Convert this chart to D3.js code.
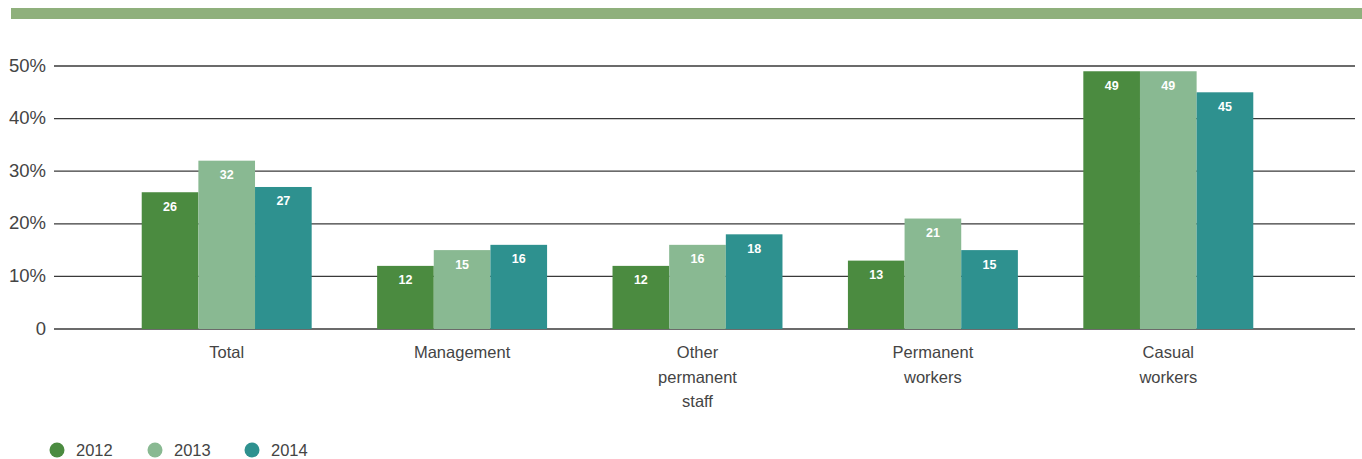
<!DOCTYPE html>
<html>
<head>
<meta charset="utf-8">
<script src="https://cdn.jsdelivr.net/npm/d3@7/dist/d3.min.js"></script>
<style>
  html, body { margin: 0; padding: 0; background: #fff; }
  svg { display: block; font-family: "Liberation Sans", Arial, sans-serif; }
</style>
</head>
<body>
<svg id="chart" width="1362" height="459"></svg>
<script>
// Staff groups (multi-line labels)
const categories = ["Total", "Management", "Other permanent staff", "Permanent workers", "Casual workers"];
const categoryLines = [["Total"], ["Management"], ["Other", "permanent", "staff"], ["Permanent", "workers"], ["Casual", "workers"]];
const years = ["2012", "2013", "2014"];
const values2012 = [26, 12, 12, 13, 49];
const values2013 = [32, 15, 16, 21, 49];
const values2014 = [27, 16, 18, 15, 45];
const yTicks = [0, 10, 20, 30, 40, 50];
const colors = ["#4b8b40", "#89b992", "#2e918f"];

const seriesValues = [values2012, values2013, values2014];

const svg = d3.select("#chart");

// Header band
svg.append("rect").attr("x", 11).attr("y", 8).attr("width", 1351).attr("height", 11).attr("fill", "#8fb07c");

const y = d3.scaleLinear().domain([0, 50]).range([329, 66]);
const x = d3.scaleBand().domain(categories).range([109, 1286]).paddingInner(0.278).paddingOuter(0.139);
const xs = d3.scaleBand().domain(years).range([0, x.bandwidth()]);

// Gridlines and y labels
const grid = svg.append("g");
grid.selectAll("line").data(yTicks).join("line")
  .attr("x1", 54).attr("x2", 1355)
  .attr("y1", d => y(d)).attr("y2", d => y(d))
  .attr("stroke", "#3a3a3a").attr("stroke-width", 1.3);
grid.selectAll("text").data(yTicks).join("text")
  .attr("x", 46).attr("y", d => y(d)).attr("dy", "0.3em")
  .attr("text-anchor", "end")
  .attr("font-size", 18.5).attr("fill", "#444")
  .text(d => d === 0 ? "0" : d + "%");

// Bars
const groups = svg.append("g").selectAll("g").data(categories).join("g")
  .attr("transform", d => `translate(${x(d)},0)`);

groups.each(function(cat, ci) {
  const g = d3.select(this);
  years.forEach((yr, si) => {
    const v = seriesValues[si][ci];
    g.append("rect")
      .attr("x", xs(yr)).attr("y", y(v))
      .attr("width", xs.bandwidth()).attr("height", y(0) - y(v))
      .attr("fill", colors[si]);
    g.append("text")
      .attr("x", xs(yr) + xs.bandwidth() / 2).attr("y", y(v) + 18.5)
      .attr("text-anchor", "middle")
      .attr("font-size", 12.5).attr("font-weight", "bold").attr("fill", "#fff")
      .text(v);
  });
});

// Category labels
const catLabels = svg.append("g").selectAll("text").data(categories).join("text")
  .attr("x", d => x(d) + x.bandwidth() / 2)
  .attr("y", 358)
  .attr("text-anchor", "middle")
  .attr("font-size", 16.5).attr("fill", "#444");
catLabels.each(function(d, i) {
  const t = d3.select(this);
  categoryLines[i].forEach((line, li) => {
    t.append("tspan").attr("x", x(d) + x.bandwidth() / 2).attr("dy", li === 0 ? 0 : 24.5).text(line);
  });
});

// Legend
const legendX = [57, 155, 252];
const legend = svg.append("g").selectAll("g").data(years).join("g")
  .attr("transform", (d, i) => `translate(${legendX[i]},450)`);
legend.append("circle").attr("r", 7.5).attr("fill", (d, i) => colors[i]);
legend.append("text").attr("x", 19).attr("y", 6).attr("font-size", 16.5).attr("fill", "#444").text(d => d);
</script>
</body>
</html>
